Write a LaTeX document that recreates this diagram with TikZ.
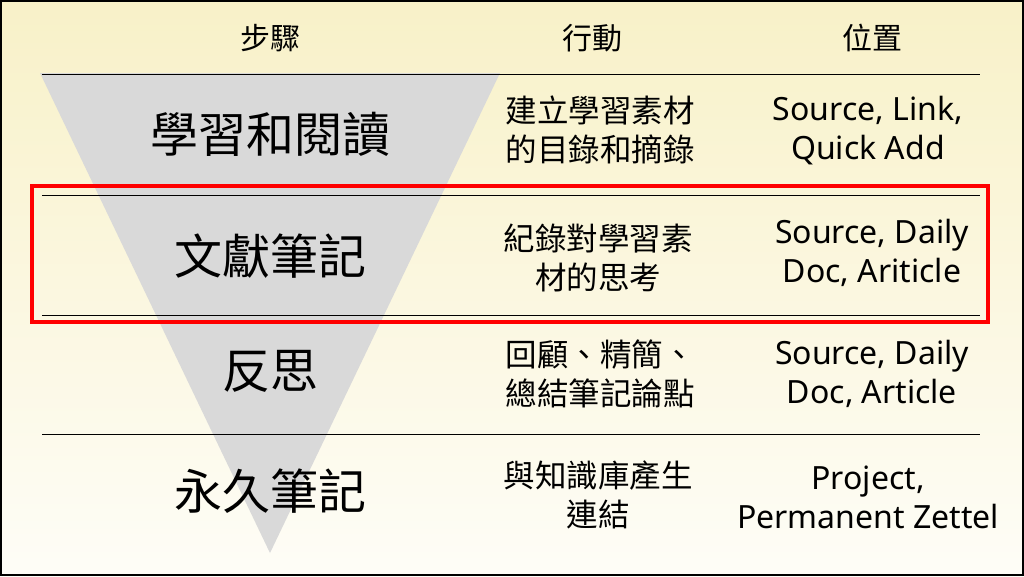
\documentclass[tikz,border=0pt]{standalone}
\usepackage{fontspec}
\setmainfont{Noto Sans}
\newfontfamily\cjk{Noto Sans CJK TC}
\definecolor{bgtop}{HTML}{F8F1C8}
\definecolor{bgbot}{HTML}{FEFDF7}
\definecolor{tri}{HTML}{D9D9D9}
\definecolor{hired}{HTML}{FF0000}
\tikzset{
  head/.style={font=\cjk\fontsize{30}{34}\selectfont, inner sep=0pt},
  steplabel/.style={font=\cjk\fontsize{48}{52}\selectfont, inner sep=0pt},
  action/.style={font=\cjk\fontsize{31.5}{39.5}\selectfont, align=center, inner sep=0pt},
  place/.style={font=\fontsize{32}{39}\selectfont, align=center, inner sep=0pt},
  sep/.style={line width=1pt, black}
}
\begin{document}
\begin{tikzpicture}[x=1pt,y=-1pt]
\useasboundingbox (0,0) rectangle (1024,576);
\shade[top color=bgtop, bottom color=bgbot] (0,0) rectangle (1024,576);
\draw[line width=2pt] (1,1) rectangle (1023,575);
% funnel
\fill[tri] (40,73) -- (500,73) -- (270,553) -- cycle;
% separators
\draw[sep] (42,74) -- (980,74);
\draw[sep] (42,195) -- (980,195);
\draw[sep] (42,315) -- (980,315);
\draw[sep] (42,434) -- (980,434);
% highlight
\draw[hired, line width=4pt] (32,186) rectangle (988,322);
% headers
\node[head] (h1) at (270,38) {步驟};
\node[head] (h2) at (592,38) {行動};
\node[head] (h3) at (872,38) {位置};
% steps
\node[steplabel] (s1) at (270,134) {學習和閱讀};
\node[steplabel] (s2) at (270,256) {文獻筆記};
\node[steplabel] (s3) at (270,371) {反思};
\node[steplabel] (s4) at (270,491) {永久筆記};
% actions
\node[action] (a1) at (600,130) {建立學習素材\\的目錄和摘錄};
\node[action] (a2) at (598,258) {紀錄對學習素\\材的思考};
\node[action] (a3) at (600,374) {回顧、精簡、\\總結筆記論點};
\node[action] (a4) at (598,495) {與知識庫產生\\連結};
% places
\node[place] (p1) at (868,131) {Source, Link,\\Quick Add};
\node[place] (p2) at (872,253) {Source, Daily\\Doc, Ariticle};
\node[place] (p3) at (872,374) {Source, Daily\\Doc, Article};
\node[place] (p4) at (868,497) {Project,\\Permanent Zettel};
\end{tikzpicture}
\end{document}
